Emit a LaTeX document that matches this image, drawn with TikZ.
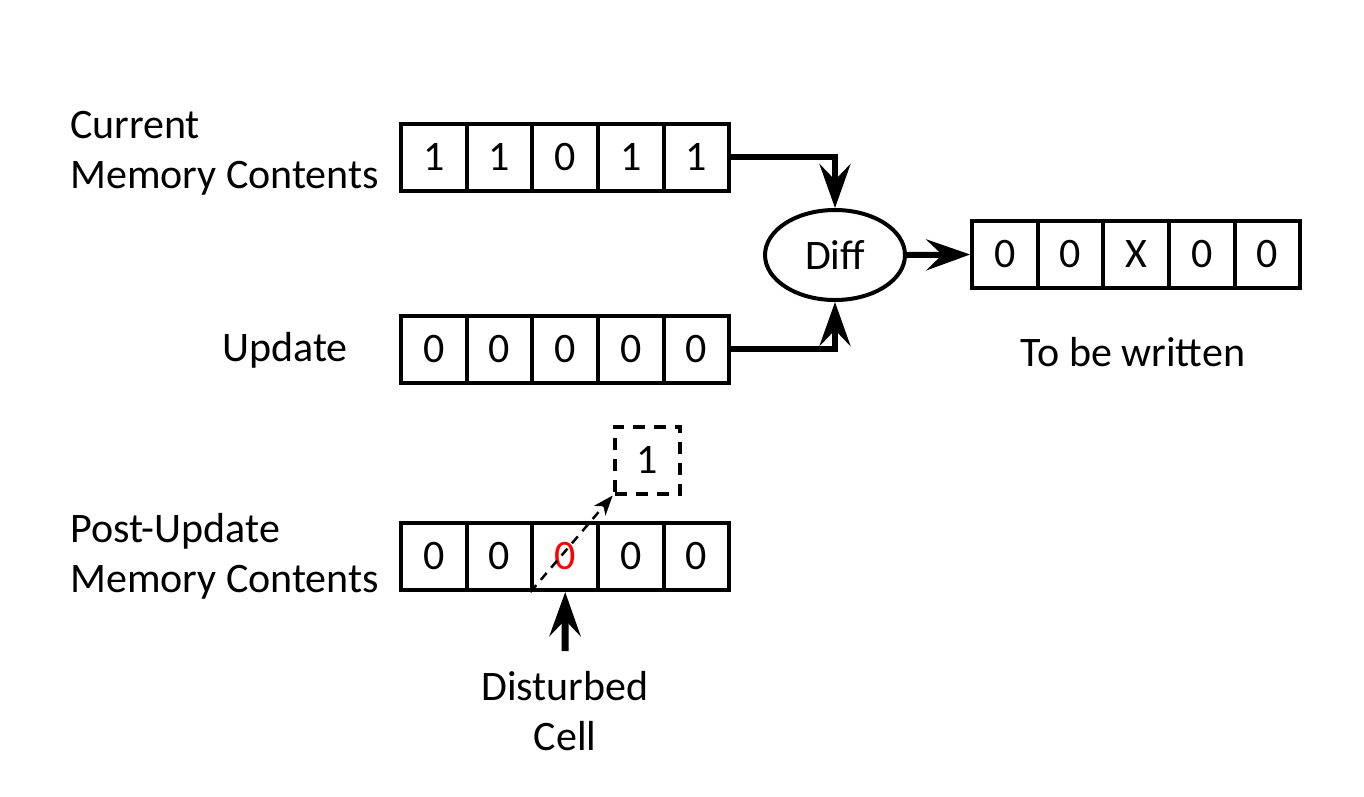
\documentclass[tikz,border=0pt]{standalone}
\usepackage{fontspec}
\setmainfont{Carlito}
\usetikzlibrary{arrows.meta,shapes.geometric}
\begin{document}
\begin{tikzpicture}[x=1pt,y=-1pt,
  txt/.style={font=\fontsize{42}{50}\selectfont},
  cell/.style={draw,line width=4pt,minimum width=65.6pt,minimum height=67pt,inner sep=0pt,txt},
  lbl/.style={txt,align=left,inner sep=0pt},
  head/.style={-{Stealth[inset=16pt,length=44pt,width=31pt]}},
  conn/.style={line width=6pt,head},
]
\useasboundingbox (0,0) rectangle (1364,796);
\foreach \v [count=\i from 0] in {1,1,0,1,1}
  \node[cell] (c\i) at (434+65.6*\i,157) {\v};
\foreach \v [count=\i from 0] in {0,0,0,0,0}
  \node[cell] (u\i) at (434+65.6*\i,349) {\v};
\foreach \v [count=\i from 0] in {0,0,X,0,0}
  \node[cell] (w\i) at (1005+65.6*\i,254.5) {\v};
\foreach \v [count=\i from 0] in {0,0,{\textcolor{red}{0}},0,0}
  \node[cell] (p\i) at (434+65.6*\i,556.5) {\v};
\node[draw,line width=4pt,ellipse,minimum width=140pt,minimum height=90pt,inner sep=0pt,txt] (diff) at (835,255) {Diff};
\node[cell,dashed,dash pattern=on 12pt off 9pt] (d) at (647.5,460) {1};
\node[lbl,anchor=west] (l1) at (70,153) {Current\\Memory Contents};
\node[lbl] (l2) at (285,350) {Update};
\node[lbl,anchor=west] (l3) at (70,556) {Post-Update\\Memory Contents};
\node[lbl] (l4) at (1133,352) {To be written};
\node[lbl,align=center] (l5) at (565,711) {Disturbed\\Cell};
\draw[conn] (c4.east) -- (diff.north |- c4.east) -- (diff.north);
\draw[conn] (u4.east) -- (diff.south |- u4.east) -- (diff.south);
\draw[conn] (diff.east) -- (w0.west);
\draw[line width=2.5pt,dash pattern=on 9pt off 7pt,-{Stealth[inset=6pt,length=20pt,width=15pt]}] (p2.south west) -- (d.south west);
\coordinate (tail) at (565,651);
\draw[line width=7pt,head] (tail) -- (p2.south);
\end{tikzpicture}
\end{document}
